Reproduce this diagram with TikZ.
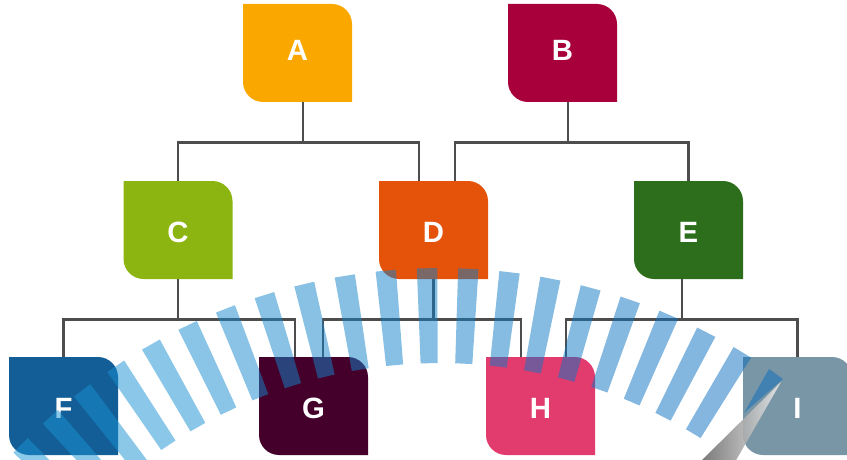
\documentclass[tikz,border=0pt]{standalone}
\usepackage{fontspec}
\setmainfont{Liberation Sans}
\usetikzlibrary{calc}

% box colours
\definecolor{cA}{RGB}{250,168,0}
\definecolor{cB}{RGB}{168,0,58}
\definecolor{cC}{RGB}{141,181,18}
\definecolor{cD}{RGB}{229,83,10}
\definecolor{cE}{RGB}{45,110,28}
\definecolor{cF}{RGB}{19,94,150}
\definecolor{cG}{RGB}{68,0,42}
\definecolor{cH}{RGB}{226,59,110}
\definecolor{cI}{RGB}{120,150,166}
\definecolor{linegray}{RGB}{77,77,77}
% arc stripes, left end and right end
\definecolor{stripeL}{RGB}{27,151,213}
\definecolor{stripeR}{RGB}{9,109,191}
% pen
\definecolor{penD}{RGB}{105,105,105}
\definecolor{penL}{RGB}{235,235,235}

\tikzset{
  lbl/.style={text=white, font=\fontsize{22}{22}\selectfont\bfseries,
    minimum width=81.75pt, minimum height=73.5pt, inner sep=0pt},
  lblhigh/.style={lbl, text height=15.75pt, text depth=3.75pt},
  lbllow/.style={lbl, text height=18.75pt, text depth=0pt},
  conn/.style={draw=linegray, line width=1.9pt},
  band/.style={opacity=0.5},
}

% box with rounded top-right and bottom-left corners:
% #1 name, #2 x, #3 y, #4 colour, #5 letter, #6 label style
\newcommand\leafbox[6]{%
  \fill[#4] ({#2-54.5},{#3-49}) -- ({#2+34.5},{#3-49})
    .. controls ({#2+45.5},{#3-49}) and ({#2+54.5},{#3-40}) .. ({#2+54.5},{#3-29})
    -- ({#2+54.5},{#3+49}) -- ({#2-34.5},{#3+49})
    .. controls ({#2-45.5},{#3+49}) and ({#2-54.5},{#3+40}) .. ({#2-54.5},{#3+29})
    -- cycle;
  \node[#6] (#1) at (#2,#3) {#5};
}

\begin{document}
\begin{tikzpicture}[x=0.75pt, y=-0.75pt]
\useasboundingbox (0,0) rectangle (847,460);
\clip (0,0) rectangle (847,460);

% boxes
\leafbox{A}{297.5}{53}{cA}{A}{lblhigh}
\leafbox{B}{562.5}{53}{cB}{B}{lblhigh}
\leafbox{C}{178}{230}{cC}{C}{lbllow}
\leafbox{D}{433.5}{230}{cD}{D}{lbllow}
\leafbox{E}{688.5}{230}{cE}{E}{lbllow}
\leafbox{F}{63.5}{406}{cF}{F}{lbllow}
\leafbox{G}{313.5}{406}{cG}{G}{lbllow}
\leafbox{H}{540.5}{406}{cH}{H}{lbllow}
\leafbox{I}{797.5}{406}{cI}{I}{lbllow}

% connectors, upper level
\draw[conn] ($(A.south)+(5.5,0)$) -- ++(0,40);
\draw[conn] (C.north) |- ($(A.south)+(5.5,40)$) -| ($(D.north)+(-14.5,0)$);
\draw[conn] ($(B.south)+(5.5,0)$) -- ++(0,40);
\draw[conn] ($(D.north)+(21.5,0)$) |- ($(B.south)+(5.5,40)$) -| (E.north);

% connectors, lower level
\draw[conn] (C.south) -- ++(0,40);
\draw[conn] (F.north) |- ($(C.south)+(0,40)$) -| ($(G.north)+(-18.5,0)$);
\draw[conn] (D.south) -- ++(0,40);
\draw[conn] ($(G.north)+(9.5,0)$) |- ($(D.south)+(0,40)$) -| ($(H.north)+(-19.5,0)$);
\draw[conn] ($(E.south)+(-6.5,0)$) -- ++(0,40);
\draw[conn] ($(H.north)+(25.5,0)$) |- ($(E.south)+(-6.5,40)$) -| (I.north);

% striped arc: annular sectors round (440,853)
\foreach \n in {-12,...,8}{
  \pgfmathsetmacro\t{-1.27+4.05*\n}
  \pgfmathtruncatemacro\p{(\n+12)*5}
  \colorlet{stripecol}{stripeR!\p!stripeL}
  \fill[stripecol, band]
    ({440+585*sin(\t-1)},{853-585*cos(\t-1)}) --
    ({440+585*sin(\t+1)},{853-585*cos(\t+1)}) --
    ({440+490*sin(\t+1)},{853-490*cos(\t+1)}) --
    ({440+490*sin(\t-1)},{853-490*cos(\t-1)}) -- cycle;
}

% pen drawing the last stripe
\fill[stripeR, band] (769,369) -- (783,379) -- (744,413) -- cycle;
\shade[left color=penD, right color=penL, opacity=0.9]
  (781,382) -- (700,462) -- (735,462) -- cycle;
\end{tikzpicture}
\end{document}
